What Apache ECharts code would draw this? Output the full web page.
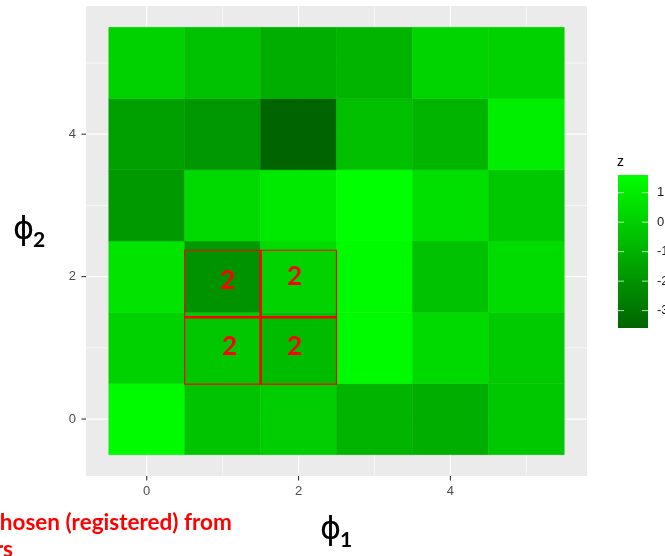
<!DOCTYPE html>
<html><head><meta charset="utf-8">
<script src="https://cdn.jsdelivr.net/npm/echarts@6/dist/echarts.min.js"></script>
<style>html,body{margin:0;padding:0;background:#fff}#c{width:665px;height:556px}</style>
</head><body><div id="c"></div>
<script>
// ---- data ----
const xValues = [0, 1, 2, 3, 4, 5];
const yValues = [0, 1, 2, 3, 4, 5];
const zRow0 = [1.43, -0.38, -0.04, -0.91, -1.11, -0.24];
const zRow1 = [0.09, 0.03, -0.38, 1.43, 0.36, -0.18];
const zRow2 = [0.70, -1.78, 0.43, 1.43, -0.44, 0.43];
const zRow3 = [-1.78, 0.36, 0.90, 1.60, 0.56, -0.24];
const zRow4 = [-1.58, -1.85, -3.59, -0.51, -0.91, 1.03];
const zRow5 = [0.09, -0.44, -1.11, -0.91, 0.16, 0.09];
const axisBreaks = [0, 2, 4];
const minorBreaks = [1, 3, 5];
const legendBreaks = [-3, -2, -1, 0, 1];
const chosenCells = [[1, 1], [2, 1], [1, 2], [2, 2]];
const chosenLabel = '2';

// ---- build ----
const zRows = [zRow0, zRow1, zRow2, zRow3, zRow4, zRow5];
const tiles = [];
zRows.forEach((row, yi) => row.forEach((z, xi) => tiles.push([xValues[xi], yValues[yi], z])));
const allZ = tiles.map(t => t[2]);
const zMin = Math.min(...allZ), zMax = Math.max(...allZ);
const gridData = [];
axisBreaks.forEach(v => { gridData.push([v, 0, 1]); gridData.push([v, 1, 1]); });
minorBreaks.forEach(v => { gridData.push([v, 0, 0]); gridData.push([v, 1, 0]); });

const LOW = '#006400', HIGH = '#00FF00';
const AXIS_FONT = 'Liberation Sans';
const chart = echarts.init(document.getElementById('c'), null, {renderer: 'canvas'});

// annotation box edges (y, in data units) for each chosen row, as drawn in the reference
const boxEdges = {1: [0.49, 1.43], 2: [1.43, 2.37]};
const labelNudge = {'1,2': [5, 4], '2,2': [-4, 0], '1,1': [7, -1], '2,1': [-4, -1]};
const TICK_LEN = 4.5;

const option = {
  animation: false,
  backgroundColor: '#ffffff',
  grid: [
    {left: 86, top: 6, width: 501, height: 470, show: true, backgroundColor: '#EBEBEB', borderWidth: 0, containLabel: false, outerBoundsMode: 'none'},
    {left: 618, top: 175, width: 30, height: 153, show: false, containLabel: false, outerBoundsMode: 'none'}
  ],
  xAxis: [
    {type: 'value', gridIndex: 0, min: -0.8, max: 5.8,
     axisLine: {show: false},
     axisTick: {show: false},
     axisLabel: {customValues: axisBreaks, color: '#4D4D4D', fontSize: 13, fontFamily: AXIS_FONT, margin: 9},
     splitLine: {show: false}},
    {type: 'value', gridIndex: 1, min: 0, max: 1, show: false}
  ],
  yAxis: [
    {type: 'value', gridIndex: 0, min: -0.8, max: 5.8,
     axisLine: {show: false},
     axisTick: {show: false},
     axisLabel: {customValues: axisBreaks, color: '#4D4D4D', fontSize: 13, fontFamily: AXIS_FONT, margin: 10},
     splitLine: {show: false}},
    {type: 'value', gridIndex: 1, min: zMin, max: zMax, position: 'right', z: 10,
     axisLine: {show: false},
     axisTick: {show: false},
     axisLabel: {customValues: legendBreaks, color: '#1A1A1A', fontSize: 13, fontFamily: AXIS_FONT, margin: 9, hideOverlap: false},
     splitLine: {show: false}}
  ],
  visualMap: {
    show: false, type: 'continuous', seriesIndex: 1, dimension: 2,
    min: zMin, max: zMax, inRange: {color: [LOW, HIGH]}
  },
  series: [
    { // panel grid lines + axis ticks
      type: 'custom', xAxisIndex: 0, yAxisIndex: 0, z: 1, silent: true, clip: false,
      data: gridData,
      renderItem: function (params, api) {
        const cs = params.coordSys;
        const v = api.value(0), dir = api.value(1), major = api.value(2);
        const w = major ? 1.2 : 0.6;
        const children = [];
        if (dir === 0) {
          const x = api.coord([v, 0])[0];
          children.push({type: 'line', shape: {x1: x, y1: cs.y, x2: x, y2: cs.y + cs.height}, style: {stroke: '#FFFFFF', lineWidth: w}});
          if (major) children.push({type: 'line', shape: {x1: x, y1: cs.y + cs.height, x2: x, y2: cs.y + cs.height + TICK_LEN}, style: {stroke: '#333333', lineWidth: 1.1}});
        } else {
          const y = api.coord([0, v])[1];
          children.push({type: 'line', shape: {x1: cs.x, y1: y, x2: cs.x + cs.width, y2: y}, style: {stroke: '#FFFFFF', lineWidth: w}});
          if (major) children.push({type: 'line', shape: {x1: cs.x - TICK_LEN, y1: y, x2: cs.x, y2: y}, style: {stroke: '#333333', lineWidth: 1.1}});
        }
        return {type: 'group', children: children};
      }
    },
    { // tiles
      type: 'custom', xAxisIndex: 0, yAxisIndex: 0, z: 3, silent: true,
      data: tiles,
      renderItem: function (params, api) {
        const x = api.value(0), y = api.value(1);
        const p0 = api.coord([x - 0.5, y + 0.5]);
        const p1 = api.coord([x + 0.5, y - 0.5]);
        return {type: 'rect', shape: {x: p0[0], y: p0[1], width: p1[0] - p0[0], height: p1[1] - p0[1]},
                style: {fill: api.visual('color'), stroke: api.visual('color'), lineWidth: 0.5}};
      }
    },
    { // red annotation boxes + labels
      type: 'custom', xAxisIndex: 0, yAxisIndex: 0, z: 5, silent: true,
      data: [[0, 0]],
      renderItem: function (params, api) {
        const children = [];
        chosenCells.forEach(c => {
          const e = boxEdges[c[1]];
          const p0 = api.coord([c[0] - 0.5, e[1]]);
          const p1 = api.coord([c[0] + 0.5, e[0]]);
          children.push({type: 'rect', shape: {x: p0[0], y: p0[1], width: p1[0] - p0[0], height: p1[1] - p0[1]},
                         style: {fill: 'rgba(0,0,0,0.04)', stroke: '#FF0000', lineWidth: 1.2}});
        });
        const xs = chosenCells.map(c => c[0]);
        const x0 = Math.min(...xs) - 0.5, x1 = Math.max(...xs) + 0.5;
        const mid = (x0 + x1) / 2;
        const yb = boxEdges[1][0], ym = boxEdges[1][1], yt = boxEdges[2][1];
        const a = api.coord([mid, yb]), b = api.coord([mid, yt]);
        children.push({type: 'line', shape: {x1: a[0], y1: a[1], x2: b[0], y2: b[1]}, style: {stroke: '#FF0000', lineWidth: 2.4}});
        const l = api.coord([x0, ym]), r = api.coord([x1, ym]);
        children.push({type: 'line', shape: {x1: l[0], y1: l[1], x2: r[0], y2: r[1]}, style: {stroke: '#FF0000', lineWidth: 2.4}});
        chosenCells.forEach(c => {
          const p = api.coord([c[0], c[1]]);
          const n = labelNudge[c[0] + ',' + c[1]] || [0, 0];
          children.push({type: 'text', style: {text: chosenLabel, x: p[0] + n[0], y: p[1] + n[1],
            fill: '#FF0000', fontSize: 26, fontWeight: 'bold', fontFamily: 'Lato, Open Sans, sans-serif',
            align: 'center', verticalAlign: 'middle'}});
        });
        return {type: 'group', children: children};
      }
    },
    { // colour bar with ticks
      type: 'custom', xAxisIndex: 1, yAxisIndex: 1, z: 2, silent: true, clip: false,
      data: [[0, zMin]],
      renderItem: function (params, api) {
        const p0 = api.coord([0, zMax]);
        const p1 = api.coord([1, zMin]);
        const children = [{type: 'rect', shape: {x: p0[0], y: p0[1], width: p1[0] - p0[0], height: p1[1] - p0[1]},
          style: {fill: new echarts.graphic.LinearGradient(0, 0, 0, 1, [{offset: 0, color: HIGH}, {offset: 1, color: LOW}])}}];
        const tl = (p1[0] - p0[0]) / 5;
        legendBreaks.forEach(b => {
          const y = api.coord([0, b])[1];
          children.push({type: 'line', shape: {x1: p0[0], y1: y, x2: p0[0] + tl, y2: y}, style: {stroke: 'rgba(255,255,255,0.7)', lineWidth: 1}});
          children.push({type: 'line', shape: {x1: p1[0] - tl, y1: y, x2: p1[0], y2: y}, style: {stroke: 'rgba(255,255,255,0.7)', lineWidth: 1}});
        });
        return {type: 'group', children: children};
      }
    }
  ],
  graphic: [
    {type: 'text', left: 617, top: 155, style: {text: 'z', fontSize: 14, fontFamily: AXIS_FONT, fill: '#000'}},
    {type: 'text', x: 13, y: 215, style: {text: 'ϕ', fontSize: 32, fontFamily: 'DejaVu Sans', fill: '#000'}},
    {type: 'text', x: 33, y: 230, style: {text: '2', fontSize: 21, fontWeight: 'bold', fontFamily: 'Lato, sans-serif', fill: '#000'}},
    {type: 'text', x: 320, y: 515, style: {text: 'ϕ', fontSize: 32, fontFamily: 'DejaVu Sans', fill: '#000'}},
    {type: 'text', x: 340, y: 530, style: {text: '1', fontSize: 21, fontWeight: 'bold', fontFamily: 'Lato, sans-serif', fill: '#000'}},
    {type: 'text', x: -11, y: 511, style: {text: 'chosen (registered) from', fontSize: 22.5, fontWeight: 'bold', fontFamily: 'Lato, sans-serif', fill: '#FF0000'}},
    {type: 'text', x: 13, y: 538, style: {text: 'rs', align: 'right', fontSize: 22.5, fontWeight: 'bold', fontFamily: 'Lato, sans-serif', fill: '#FF0000'}}
  ]
};
chart.setOption(option);
</script>
</body></html>
